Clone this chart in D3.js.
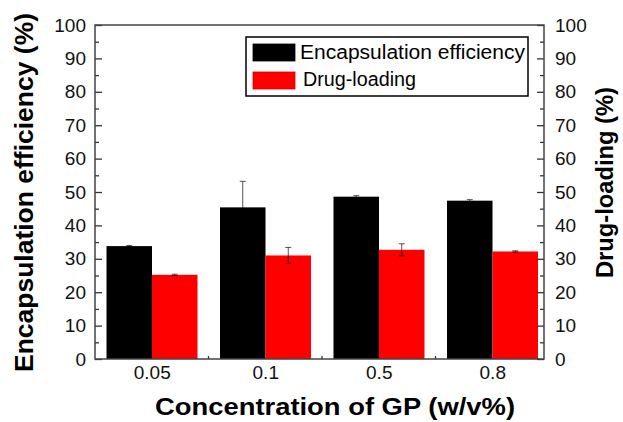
<!DOCTYPE html>
<html><head><meta charset="utf-8">
<script src="https://cdn.jsdelivr.net/npm/d3@7"></script>
<style>body{margin:0;background:#fff}svg{display:block}</style>
</head><body>
<svg id="c" width="623" height="422"></svg>
<script>
const categories = ["0.05", "0.1", "0.5", "0.8"];
const seriesNames = ["Encapsulation efficiency", "Drug-loading"];
const encapsulation = [33.8, 45.4, 48.6, 47.4];
const encapsulationErr = [0.2, 7.8, 0.3, 0.3];
const drugLoading = [25.2, 31.0, 32.7, 32.2];
const drugLoadingErr = [0.2, 2.4, 1.8, 0.2];
const colors = ["#000000", "#ff0000"];
const majorTicks = [0,10,20,30,40,50,60,70,80,90,100];
const minorTicks = [5,15,25,35,45,55,65,75,85,95];

const svg = d3.select("#c");
const L = 95, R = 544, T = 25, B = 359;
const font = "Liberation Sans, Arial, sans-serif";

const x0 = d3.scaleBand().domain(categories).range([L, 549]).padding(0);
const x1 = d3.scaleBand().domain(seriesNames).range([11.5, 102.5]).padding(0);
const y = d3.scaleLinear().domain([0, 100]).range([B, T]);

const data = categories.map((c, i) => [
  {cat: c, s: seriesNames[0], v: encapsulation[i], e: encapsulationErr[i], col: colors[0]},
  {cat: c, s: seriesNames[1], v: drugLoading[i], e: drugLoadingErr[i], col: colors[1]}
]).flat();

// bars
svg.append("g").selectAll("rect").data(data).join("rect")
  .attr("x", d => x0(d.cat) + x1(d.s))
  .attr("width", x1.bandwidth())
  .attr("y", d => y(d.v))
  .attr("height", d => y(0) - y(d.v))
  .attr("fill", d => d.col);

// error bars
const eg = svg.append("g").attr("stroke", "#000").attr("stroke-width", 0.9).attr("stroke-opacity", 0.75);
data.forEach(d => {
  const cx = x0(d.cat) + x1(d.s) + x1.bandwidth() / 2;
  eg.append("line").attr("x1", cx).attr("x2", cx).attr("y1", y(d.v + d.e)).attr("y2", y(d.v - d.e));
  eg.append("line").attr("x1", cx - 3).attr("x2", cx + 3).attr("y1", y(d.v + d.e)).attr("y2", y(d.v + d.e));
  eg.append("line").attr("x1", cx - 3).attr("x2", cx + 3).attr("y1", y(d.v - d.e)).attr("y2", y(d.v - d.e));
});

// axes
function styleAxis(g) {
  g.select(".domain").remove();
  g.selectAll("line").attr("stroke", "#333").attr("stroke-width", 1.3);
  g.selectAll("text").attr("font-family", font).attr("font-size", 19).attr("fill", "#111");
}
svg.append("g").attr("transform", `translate(${L},0)`)
  .call(d3.axisLeft(y).tickValues(majorTicks).tickSize(-7).tickPadding(9)).call(styleAxis);
svg.append("g").attr("transform", `translate(${L},0)`)
  .call(d3.axisLeft(y).tickValues(minorTicks).tickSize(-4).tickFormat("")).call(styleAxis);
svg.append("g").attr("transform", `translate(${R},0)`)
  .call(d3.axisRight(y).tickValues(majorTicks).tickSize(-7).tickPadding(11)).call(styleAxis);
svg.append("g").attr("transform", `translate(${R},0)`)
  .call(d3.axisRight(y).tickValues(minorTicks).tickSize(-4).tickFormat("")).call(styleAxis);

// x axis: labels at band centers, small ticks at band boundaries
const xa = svg.append("g").attr("transform", `translate(0,${B})`);
xa.call(d3.axisBottom(d3.scalePoint().domain(categories).range([x0(categories[0]) + x0.bandwidth()/2, x0(categories[3]) + x0.bandwidth()/2]))
  .tickSize(0).tickPadding(7)).call(styleAxis);
svg.append("g").selectAll("line").data(categories.slice(1)).join("line")
  .attr("x1", d => x0(d)).attr("x2", d => x0(d))
  .attr("y1", B).attr("y2", B - 3)
  .attr("stroke", "#333").attr("stroke-width", 1.3);

// frame
svg.append("rect").attr("x", L).attr("y", T).attr("width", R - L).attr("height", B - T)
  .attr("fill", "none").attr("stroke", "#444").attr("stroke-width", 1.5);

// titles
svg.append("text").attr("transform", `translate(33,192.5) rotate(-90)`)
  .attr("text-anchor", "middle").attr("font-family", font).attr("font-weight", "bold")
  .attr("font-size", 26).attr("textLength", 359).attr("lengthAdjust", "spacingAndGlyphs")
  .text("Encapsulation efficiency (%)");
svg.append("text").attr("transform", `translate(613,182.5) rotate(-90)`)
  .attr("text-anchor", "middle").attr("font-family", font).attr("font-weight", "bold")
  .attr("font-size", 24).attr("textLength", 191).attr("lengthAdjust", "spacingAndGlyphs")
  .text("Drug-loading (%)");
svg.append("text").attr("x", 335).attr("y", 415)
  .attr("text-anchor", "middle").attr("font-family", font).attr("font-weight", "bold")
  .attr("font-size", 24).attr("textLength", 360).attr("lengthAdjust", "spacingAndGlyphs")
  .text("Concentration of GP (w/v%)");

// legend
const lg = svg.append("g");
lg.append("rect").attr("x", 246).attr("y", 37).attr("width", 282).attr("height", 59)
  .attr("fill", "#fff").attr("stroke", "#000").attr("stroke-width", 1.5);
const legendLens = [225, 113];
seriesNames.forEach((s, i) => {
  lg.append("rect").attr("x", 253).attr("y", 44 + i * 28).attr("width", 42).attr("height", 17)
    .attr("fill", colors[i]).attr("stroke", i ? "#c00" : "#000").attr("stroke-width", 0.8);
  lg.append("text").attr("x", 300 + i * 3).attr("y", 59 + i * 27)
    .attr("font-family", font).attr("font-size", 20).attr("fill", "#000")
    .attr("textLength", legendLens[i]).attr("lengthAdjust", "spacingAndGlyphs").text(s);
});
</script>
</body></html>
